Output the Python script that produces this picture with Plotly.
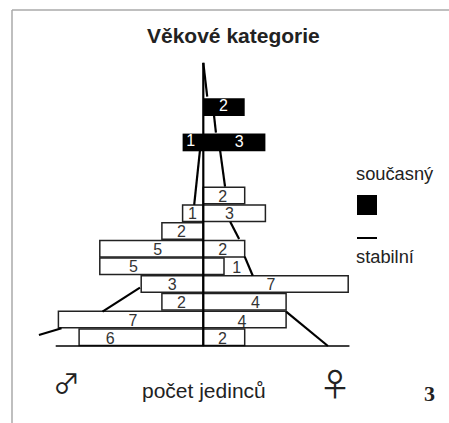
import plotly.graph_objects as go

# --- data ---
age_rows = [0, 1, 2, 3, 4, 5, 6, 7, 8]
male_counts = [6, 7, 2, 3, 5, 5, 2, 1, 0]
female_counts = [2, 4, 4, 7, 1, 2, 0, 3, 2]
current_rows = [11, 13]
current_male = [1, 0]
current_female = [3, 2]
stable_right_x = [0, 0.19, None, 0.52, 0.61, None, 0.81, 1.05, None, 1.3, 1.73, None, 2.0, 2.39, None, 4.0, 6.02]
stable_right_y = [16, 14.09, None, 13.0, 12.05, None, 11.07, 9.0, None, 7.02, 6.05, None, 5.05, 3.97, None, 1.94, 0]
stable_left_x = [-0.16, -0.44, None, -3.06, -4.87, None, -6.85, -7.94]
stable_left_y = [11.07, 7.97, None, 3.3, 1.94, None, 1.0, 0.62]
label_text = ["6", "7", "2", "3", "5", "5", "2", "1", "1",
              "2", "4", "4", "7", "1", "2", "3", "2", "3", "2"]
label_x = [-4.5, -3.4, -1.05, -1.5, -3.37, -2.2, -1.05, -0.53, -0.61,
           0.92, 1.87, 2.52, 3.27, 1.61, 0.94, 1.26, 0.94, 1.73, 0.97]
label_y = [0.34, 1.37, 2.37, 3.4, 4.42, 5.39, 6.4, 7.4, 11.5,
           0.34, 1.32, 2.37, 3.4, 4.35, 5.39, 7.4, 8.37, 11.46, 13.5]
label_color = ["#333"] * 8 + ["white"] + ["#333"] * 8 + ["white", "white"]

PXX = 20.7
PXY = 17.7
CX = 203.3
BY = 346
W, H = 449, 423

fig = go.Figure()

centers = [r + 0.5 for r in age_rows]
line_style = dict(color="#222", width=1.5)
fig.add_trace(go.Bar(y=centers, x=[-m for m in male_counts], orientation="h", width=0.93,
                     marker=dict(color="white", line=line_style), showlegend=False))
fig.add_trace(go.Bar(y=centers, x=female_counts, orientation="h", width=0.93,
                     marker=dict(color="white", line=line_style), showlegend=False))

cur_centers = [r + 0.5 for r in current_rows]
fig.add_trace(go.Bar(y=cur_centers, x=[-m for m in current_male], orientation="h", width=1.0,
                     marker=dict(color="black", line=dict(width=0)), showlegend=False))
fig.add_trace(go.Bar(y=cur_centers, x=current_female, orientation="h", width=1.0,
                     marker=dict(color="black", line=dict(width=0)), showlegend=False))

fig.add_trace(go.Scatter(x=stable_right_x, y=stable_right_y, mode="lines",
                         line=dict(color="black", width=2.2), showlegend=False))
fig.add_trace(go.Scatter(x=stable_left_x, y=stable_left_y, mode="lines",
                         line=dict(color="black", width=2.2), showlegend=False))

# central axis and baseline
fig.add_shape(type="line", x0=0, x1=0, y0=0, y1=16, xref="x", yref="y",
              line=dict(color="black", width=2.2))
fig.add_shape(type="line", x0=-7.13, x1=7.06, y0=0, y1=0, xref="x", yref="y",
              line=dict(color="black", width=1.5))

# count labels
fig.add_trace(go.Scatter(x=label_x, y=label_y, mode="text", text=label_text,
                         textposition="middle center",
                         textfont=dict(family="Liberation Sans", size=16, color=label_color),
                         showlegend=False))


def note(text, px, py, size, family="Liberation Sans", bold=False, anchor="left", color="#222"):
    fig.add_annotation(x=px / W, y=1 - py / H, xref="paper", yref="paper", text=f"<b>{text}</b>" if bold else text,
                       showarrow=False, xanchor=anchor, yanchor="middle",
                       font=dict(family=family, size=size, color=color))


note("Věkové kategorie", 233, 35.5, 21, bold=True, anchor="center", color="#222")
note("současný", 354, 174, 18.3)
note("stabilní", 354, 256, 18.3)
note("♂", 66, 382, 27, family="Noto Sans CJK SC", anchor="center")
note("♀", 335, 382, 32, family="Noto Sans CJK SC", anchor="center")
note("počet jedinců", 204, 390, 21, anchor="center")
note("3", 429, 393, 22, family="Liberation Serif", bold=True, anchor="center")

# legend keys and the page frame
fig.add_shape(type="rect", x0=357 / W, x1=377 / W, y0=1 - 215 / H, y1=1 - 195 / H, xref="paper", yref="paper",
              fillcolor="black", line=dict(width=0))
fig.add_shape(type="line", x0=357 / W, x1=377 / W, y0=1 - 238 / H, y1=1 - 238 / H, xref="paper", yref="paper",
              line=dict(color="black", width=2))
fig.add_shape(type="line", x0=12 / W, x1=12 / W, y0=0, y1=1 - 10 / H, xref="paper", yref="paper",
              line=dict(color="#aaa", width=1.5))
fig.add_shape(type="line", x0=12 / W, x1=1, y0=1 - 10 / H, y1=1 - 10 / H, xref="paper", yref="paper",
              line=dict(color="#aaa", width=1.5))

fig.update_layout(
    width=W, height=H, margin=dict(l=0, r=0, t=0, b=0),
    plot_bgcolor="white", paper_bgcolor="white",
    barmode="overlay", showlegend=False,
    xaxis=dict(range=[-CX / PXX, (W - CX) / PXX], visible=False),
    yaxis=dict(range=[-(H - BY) / PXY, BY / PXY], visible=False),
)
fig.write_html("out.html", config={"displayModeBar": False},
               post_script="document.body.style.margin='0';")
